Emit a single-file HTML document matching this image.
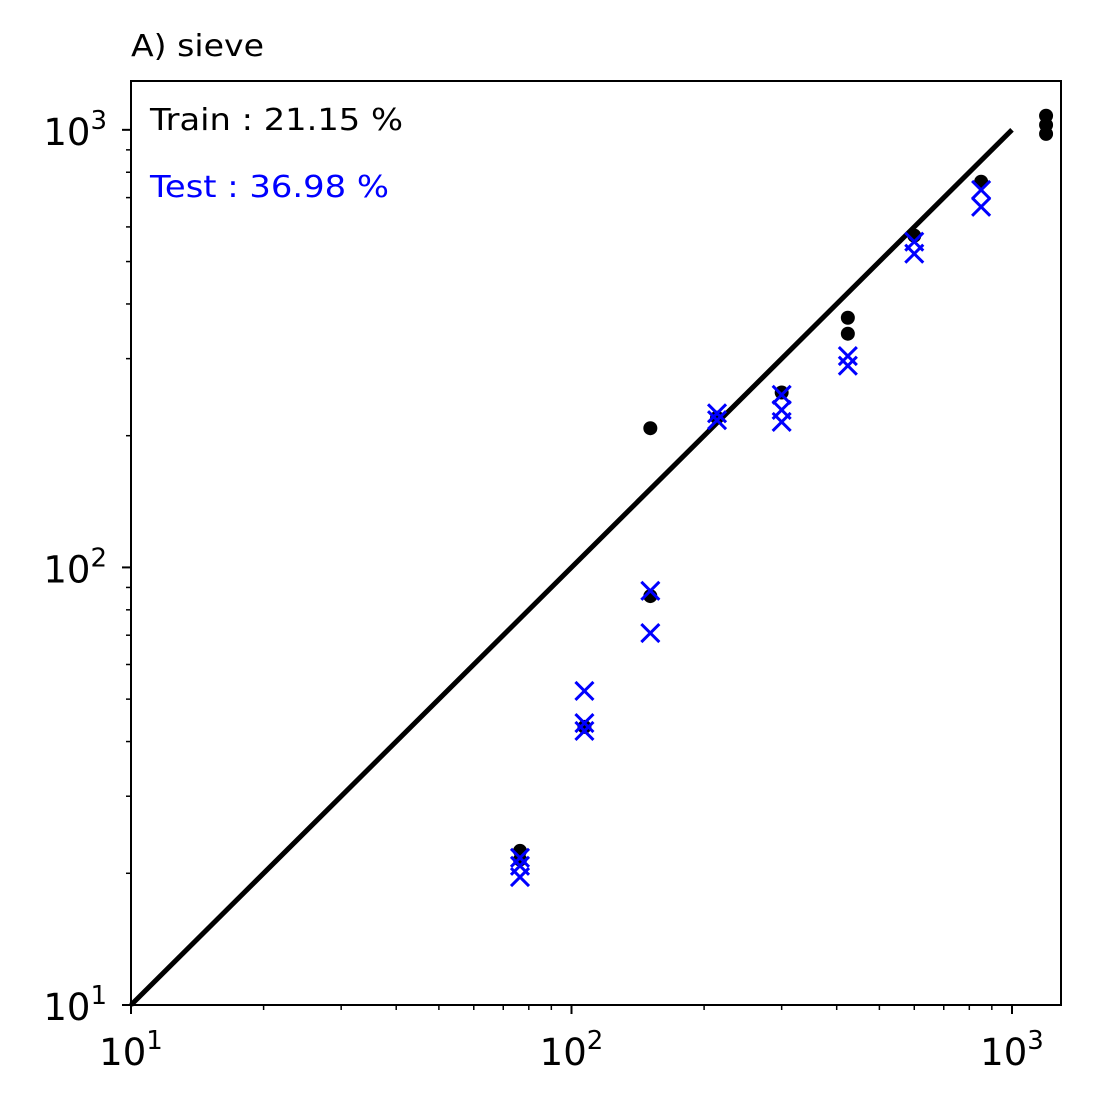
<!DOCTYPE html>
<html><head><meta charset="utf-8"><style>
html,body{margin:0;padding:0;background:#fff;}
svg{display:block;font-family:"DejaVu Sans","Liberation Sans",sans-serif;}
</style></head><body>
<svg id="chart" width="1094" height="1105" viewBox="0 0 1094 1105" xmlns="http://www.w3.org/2000/svg">
<rect width="1094" height="1105" fill="#fff"/>
<text x="131" y="56" font-size="30" textLength="133" lengthAdjust="spacingAndGlyphs" fill="#000">A) sieve</text>
<g id="marks"></g>
<g id="axes"></g>
<text x="150" y="130" font-size="30" textLength="253" lengthAdjust="spacingAndGlyphs" fill="#000">Train : 21.15 %</text>
<text x="150" y="197" font-size="30" textLength="239" lengthAdjust="spacingAndGlyphs" fill="#0000ff">Test : 36.98 %</text>
</svg>
<script>
const trainX = [76.4,76.4,107,151,151,214,300,424,424,600,851,1195,1195,1195];
const trainY = [22.5,21.5,43.2,208,86,220,251,372,342,573,761,1077,1026,979];
const testX = [76.4,76.4,76.4,107,107,107,151,151,214,214,300,300,300,424,424,600,600,851,851];
const testY = [21.7,20.8,19.6,52.2,44.1,42.3,88.4,70.8,225,217,248,229,215,304,289,555,521,729,667];
const diagonal = [10,1000];
const tickVals = [10,100,1000];
const tickExps = ["1","2","3"];

const L=131,R=1061,T=81,B=1005;
const xMin=1, xMax=Math.log10(1292), yMin=1, yMax=Math.log10(1293);
function xs(v){return L+(Math.log10(v)-xMin)/(xMax-xMin)*(R-L);}
function ys(v){return B-(Math.log10(v)-yMin)/(yMax-yMin)*(B-T);}
const NS="http://www.w3.org/2000/svg";
function mk(tag,attrs,parent){const e=document.createElementNS(NS,tag);for(const k in attrs)e.setAttribute(k,attrs[k]);parent.appendChild(e);return e;}
const marks=document.getElementById('marks');
const axes=document.getElementById('axes');

const line=mk('line',{x1:xs(diagonal[0]),y1:ys(diagonal[0]),x2:xs(diagonal[1]),y2:ys(diagonal[1]),stroke:'#000','stroke-width':5},marks);



trainX.forEach((x,i)=>{
  const c=mk('circle',{cx:xs(x),cy:ys(trainY[i]),r:7,fill:'#000'},marks);
  
  
});
testX.forEach((x,i)=>{
  const cx=xs(x),cy=ys(testY[i]),s=9;
  const p=mk('path',{d:`M${cx-s},${cy-s}L${cx+s},${cy+s}M${cx-s},${cy+s}L${cx+s},${cy-s}`,stroke:'#0000ff','stroke-width':3,fill:'none'},marks);
  
  
});

const frame=mk('rect',{x:L,y:T,width:R-L,height:B-T,fill:'none',stroke:'#000','stroke-width':2},axes);



for(let d=10;d<=1000;d*=10){for(let m=2;m<=9;m++){const v=d*m;
  if(Math.log10(v)<=xMax){const t=mk('line',{x1:xs(v),y1:B,x2:xs(v),y2:B+5,stroke:'#000','stroke-width':1.5},axes);
    }
  if(Math.log10(v)<=yMax){const t=mk('line',{x1:L,y1:ys(v),x2:L-5,y2:ys(v),stroke:'#000','stroke-width':1.5},axes);
    }
}}
tickVals.forEach((v,i)=>{
  const tx=mk('line',{x1:xs(v),y1:B,x2:xs(v),y2:B+9,stroke:'#000','stroke-width':2},axes);
  
  const ty=mk('line',{x1:L,y1:ys(v),x2:L-9,y2:ys(v),stroke:'#000','stroke-width':2},axes);
  
  const lx=mk('text',{x:xs(v),y:B+60,'font-size':37,'text-anchor':'middle',fill:'#000'},axes);
  lx.innerHTML='10<tspan font-size="26" dy="-16">'+tickExps[i]+'</tspan>';
  
  const ly=mk('text',{x:L-24,y:ys(v)+15,'font-size':37,'text-anchor':'end',fill:'#000'},axes);
  ly.innerHTML='10<tspan font-size="26" dy="-16">'+tickExps[i]+'</tspan>';
  
});
</script>
</body></html>
